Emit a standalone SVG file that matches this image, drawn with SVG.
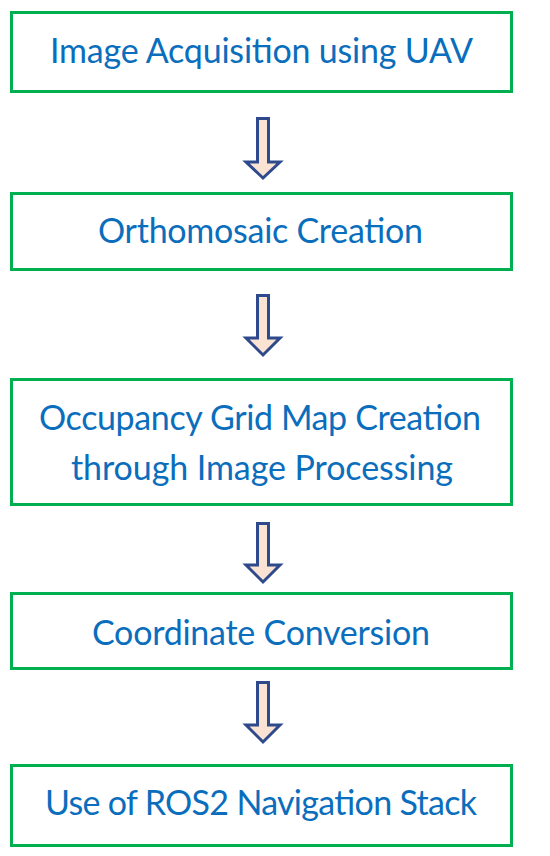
<svg xmlns="http://www.w3.org/2000/svg" width="550" height="856" viewBox="0 0 550 856">
<style>
.box{fill:#ffffff;stroke:#00B050;stroke-width:3}
.lbl{font-family:Lato,"Liberation Sans",sans-serif;font-size:34px;fill:#0A6EBD;text-anchor:middle}
.arr{fill:#FBE3D4;stroke:#2F4A8C;stroke-width:3;stroke-linejoin:miter}
</style>
<rect width="550" height="856" fill="#ffffff"/>
<g id="connectors">
<path class="arr" d="M257.5,118.5 H268.5 V162 H280 L263,178 L246,162 H257.5 Z"/>
<path class="arr" d="M257.5,295.5 H268.5 V338 H280 L263,355 L246,338 H257.5 Z"/>
<path class="arr" d="M257.5,523.5 H268.5 V565 H280 L263,582 L246,565 H257.5 Z"/>
<path class="arr" d="M257.5,682.5 H268.5 V725 H280 L263,742 L246,725 H257.5 Z"/>
</g>
<g id="n1">
<rect class="box" x="11.5" y="12.5" width="500" height="79"/>
<text class="lbl" x="261.5" y="63" textLength="423">Image Acquisition using UAV</text>
</g>
<g id="n2">
<rect class="box" x="11.5" y="193.5" width="500" height="76"/>
<text class="lbl" x="260.5" y="243" textLength="325">Orthomosaic Creation</text>
</g>
<g id="n3">
<rect class="box" x="11.5" y="379.5" width="500" height="125"/>
<text class="lbl" x="260" y="430" textLength="442">Occupancy Grid Map Creation</text>
<text class="lbl" x="262" y="480" textLength="382">through Image Processing</text>
</g>
<g id="n4">
<rect class="box" x="11.5" y="593.5" width="500" height="75"/>
<text class="lbl" x="261" y="645" textLength="338">Coordinate Conversion</text>
</g>
<g id="n5">
<rect class="box" x="11.5" y="765.5" width="500" height="80"/>
<text class="lbl" x="261" y="815" textLength="432">Use of ROS2 Navigation Stack</text>
</g>
</svg>
